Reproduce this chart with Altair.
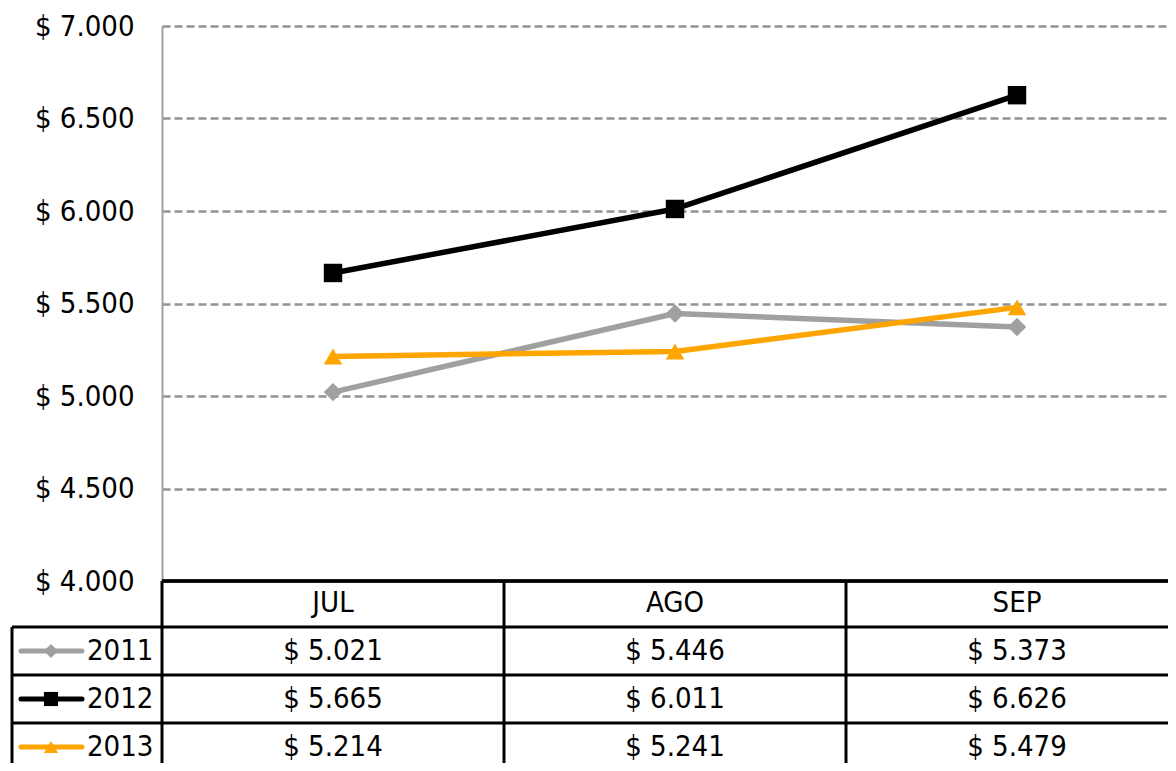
import altair as alt
import pandas as pd

months = ["JUL", "AGO", "SEP"]
years = ["2011", "2012", "2013"]
values_2011 = [5021, 5446, 5373]
values_2012 = [5665, 6011, 6626]
values_2013 = [5214, 5241, 5479]
y_ticks = [4000, 4500, 5000, 5500, 6000, 6500, 7000]
colors = ["#a0a0a0", "#000000", "#ffa500"]
shapes = ["diamond", "square", "triangle-up"]

rows = []
for yr, vals in zip(years, [values_2011, values_2012, values_2013]):
    for m, v in zip(months, vals):
        rows.append({"year": yr, "row": yr, "month": m, "value": v})
df = pd.DataFrame(rows)
hdr_df = pd.DataFrame({"month": months, "row": ["hdr"] * len(months)})
yr_df = pd.DataFrame({"year": years, "row": years})

FONT = "DejaVu Sans Condensed, DejaVu Sans, sans-serif"
FS = 29
W, H = 1006, 555
LABEL_EXPR = "'$ ' + replace(format(datum.value, ',.0f'), ',', '.')"

xscale = alt.Scale(type="band", domain=months, range=[0, 1026], paddingInner=0, paddingOuter=0)
tscale = alt.Scale(type="band", domain=["hdr"] + years, range=[553, 745], paddingInner=0, paddingOuter=0)
color = alt.Color("year:N", scale=alt.Scale(domain=years, range=colors), legend=None)
shape = alt.Shape("year:N", scale=alt.Scale(domain=years, range=shapes), legend=None)

x_center = alt.X("month:N", scale=xscale, bandPosition=0.5, axis=None)
x_start = alt.X("month:N", scale=xscale, bandPosition=0, axis=None)
yval = alt.Y(
    "value:Q",
    scale=alt.Scale(domain=[4000, 7000], nice=False, zero=False),
    axis=alt.Axis(
        values=y_ticks, title=None, labelExpr=LABEL_EXPR,
        labelFont=FONT, labelFontSize=FS, labelColor="black", labelPadding=28,
        ticks=False, tickSize=0, domainColor="#a0a0a0", domainWidth=2,
        grid=True, gridColor="#939393", gridWidth=2.5, gridDash=[8, 4],
    ),
)
y_c = alt.Y("row:N", scale=tscale, bandPosition=0.5, axis=None)
y_top = alt.Y("row:N", scale=tscale, bandPosition=0, axis=None)

# --- line chart part ---
lines = alt.Chart(df).mark_line(strokeWidth=5.5, strokeCap="round", strokeJoin="round").encode(
    x=x_center, y=yval, color=color, detail="year:N"
)
points = alt.Chart(df).mark_point(filled=True, size=340, opacity=1).encode(
    x=x_center, y=yval, color=color, shape=shape
)
hdr_top = alt.Chart(hdr_df).mark_rule(color="black", strokeWidth=3).encode(
    y=alt.datum(4000), x=alt.value(0), x2=alt.value(W + 30)
)
top = alt.layer(lines, points, hdr_top)

# --- data table part ---
row_lines = alt.Chart(yr_df).mark_rule(color="black", strokeWidth=3).encode(
    y=y_top, x=alt.value(-150), x2=alt.value(W + 30)
)
col_lines = alt.Chart(hdr_df).mark_rule(color="black", strokeWidth=3).encode(
    x=x_start, y=alt.value(H), y2=alt.value(H + 260)
)
left_border = alt.Chart(yr_df.head(1)).mark_rule(color="black", strokeWidth=3).encode(
    y=y_top, y2=alt.value(H + 260), x=alt.value(-150)
)
hdr_text = alt.Chart(hdr_df).mark_text(font=FONT, fontSize=FS, color="black", baseline="middle").encode(
    x=x_center, y=y_c, text="month:N"
)
cell_text = alt.Chart(df).transform_calculate(
    label="'$ ' + replace(format(datum.value, ',.0f'), ',', '.')"
).mark_text(font=FONT, fontSize=FS, color="black", baseline="middle").encode(
    x=x_center, y=y_c, text="label:N"
)
key_lines = alt.Chart(yr_df).mark_rule(strokeWidth=5, strokeCap="round").encode(
    y=y_c, x=alt.value(-141), x2=alt.value(-80), color=color
)
key_points = alt.Chart(yr_df).mark_point(filled=True, size=200, opacity=1).encode(
    y=y_c, x=alt.value(-111), color=color, shape=shape
)
key_text = alt.Chart(yr_df).mark_text(font=FONT, fontSize=FS, color="black", baseline="middle", align="left").encode(
    y=y_c, x=alt.value(-75), text="year:N"
)
table = alt.layer(row_lines, col_lines, left_border, hdr_text, cell_text, key_lines, key_points, key_text)

chart = (
    alt.layer(top, table)
    .resolve_scale(y="independent")
    .properties(
        width=W, height=H,
        autosize=alt.AutoSizeParams(type="none"),
        padding={"left": 154, "top": 18, "right": 0, "bottom": 182},
        background="white",
    )
    .configure_view(strokeWidth=0)
)

chart.save("out.html", embed_options={"renderer": "svg", "actions": False})
